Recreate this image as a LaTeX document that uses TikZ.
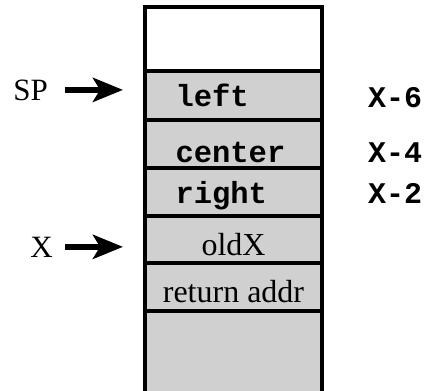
\documentclass[tikz,border=0pt]{standalone}
\usepackage{fontspec}
\setmainfont{Liberation Serif}
\setmonofont{Liberation Mono}
\usepackage{tikz}
\usetikzlibrary{positioning,arrows.meta}
\definecolor{slotgray}{RGB}{208,208,208}

\begin{document}
\begin{tikzpicture}[x=1pt, y=-1pt,
slot/.style={rectangle, draw=black, line width=3.5pt, fill=slotgray, minimum width=177pt, inner sep=0pt, outer sep=0pt, text depth=0pt, font=\fontsize{32}{32}\selectfont},
codeslot/.style={slot, text width=116pt, align=left, font=\fontsize{30.5}{30.5}\selectfont\ttfamily\bfseries},
lift/.style={text height=#1},
ptr/.style={-{Stealth[length=30pt, width=24pt, inset=7pt]}, line width=6.5pt},
reg/.style={anchor=base east, inner sep=0pt, font=\fontsize{31}{31}\selectfont},
offs/.style={anchor=base west, inner sep=0pt, font=\fontsize{30}{30}\selectfont\ttfamily\bfseries},
]
\useasboundingbox (0,0) rectangle (434,391);
\clip (0,0) rectangle (434,391);

% the stack, top to bottom
\node[slot, fill=white, minimum height=64pt] (free) at (233.5,39) {};
\node[codeslot, minimum height=49pt, lift=21pt, below=0pt of free] (left) {left};
\node[codeslot, minimum height=48pt, lift=36pt, below=0pt of left] (center) {center};
\node[codeslot, minimum height=48pt, lift=22pt, below=0pt of center] (right) {right};
\node[slot, minimum height=47pt, lift=31pt, below=0pt of right] (oldx) {oldX};
\node[slot, minimum height=48pt, lift=30pt, below=0pt of oldx] (ret) {return addr};
\node[slot, minimum height=100pt, below=0pt of ret] (rest) {};

% registers
\node[reg] (sp) at (48,100) {SP};
\node[reg] (x) at (53,257) {X};
\draw[ptr, shorten <=17pt, shorten >=22pt] (sp.east) -- (sp.east -| left.west);
\draw[ptr, shorten <=12pt, shorten >=22pt] (x.east) -- (x.east -| oldx.west);

% offsets from X
\node[offs] (off6) at (368,107) {X-6};
\node[offs] (off4) at (368,162) {X-4};
\node[offs] (off2) at (368,203) {X-2};

\end{tikzpicture}
\end{document}
